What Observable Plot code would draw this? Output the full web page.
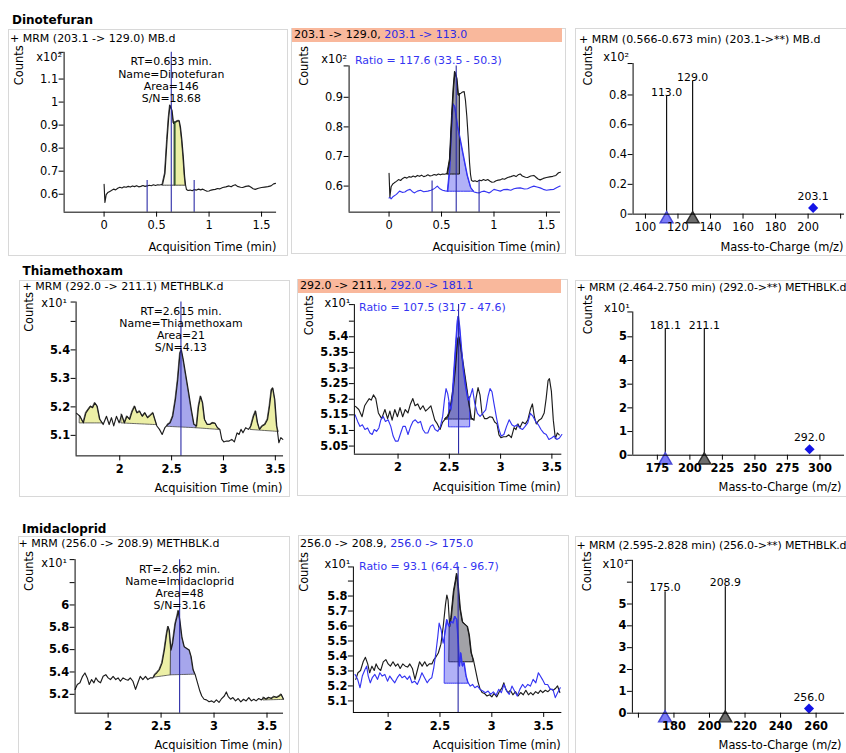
<!DOCTYPE html>
<html><head><meta charset="utf-8">
<script src="https://cdn.jsdelivr.net/npm/d3@7"></script>
<script src="https://cdn.jsdelivr.net/npm/@observablehq/plot@0.6"></script>
<style>
body{margin:0;background:#fff;font-family:"DejaVu Sans",sans-serif;color:#000}
#page{position:relative;width:846px;height:753px;overflow:hidden;background:#fff}
.box{position:absolute;border:1px solid #d8d8d8;box-sizing:border-box;background:#fff}
.box svg{position:absolute;left:-1px;top:-1px;overflow:visible}
.lbl{position:absolute;white-space:nowrap;height:14px;line-height:14px}
</style>
</head><body><div id="page"></div>
<script>
// ================= DATA =================
// ---- Dinotefuran (time in min, counts x10^2) ----
const dinoQuant = [[0.000,0.643],[0.008,0.564],[0.020,0.598],[0.035,0.607],[0.050,0.611],[0.070,0.616],[0.090,0.622],[0.110,0.619],[0.130,0.626],[0.150,0.630],[0.170,0.627],[0.190,0.632],[0.210,0.630],[0.230,0.634],[0.250,0.631],[0.270,0.636],[0.290,0.633],[0.310,0.637],[0.330,0.632],[0.350,0.634],[0.370,0.638],[0.390,0.634],[0.410,0.636],[0.430,0.639],[0.450,0.637],[0.470,0.641],[0.490,0.638],[0.510,0.641],[0.530,0.640],[0.557,0.643],[0.580,0.690],[0.600,0.836],[0.615,0.930],[0.628,0.986],[0.647,0.964],[0.662,0.907],[0.675,0.912],[0.685,0.914],[0.700,0.918],[0.716,0.919],[0.728,0.890],[0.741,0.836],[0.755,0.760],[0.767,0.679],[0.776,0.640],[0.785,0.620],[0.800,0.616],[0.820,0.618],[0.840,0.615],[0.860,0.620],[0.880,0.618],[0.900,0.622],[0.920,0.619],[0.940,0.622],[0.960,0.617],[0.980,0.613],[1.000,0.614],[1.020,0.618],[1.040,0.620],[1.060,0.621],[1.080,0.625],[1.100,0.623],[1.130,0.629],[1.160,0.632],[1.190,0.636],[1.210,0.632],[1.230,0.638],[1.250,0.641],[1.270,0.634],[1.300,0.630],[1.320,0.629],[1.350,0.634],[1.380,0.636],[1.400,0.630],[1.420,0.624],[1.440,0.621],[1.470,0.626],[1.500,0.629],[1.530,0.631],[1.560,0.633],[1.590,0.636],[1.615,0.645],[1.633,0.647]];
const dinoQual = [[0.000,0.560],[0.010,0.562],[0.020,0.557],[0.040,0.565],[0.070,0.572],[0.100,0.583],[0.125,0.579],[0.150,0.580],[0.175,0.586],[0.200,0.589],[0.220,0.582],[0.240,0.577],[0.270,0.583],[0.300,0.586],[0.330,0.581],[0.370,0.583],[0.400,0.586],[0.420,0.589],[0.440,0.594],[0.460,0.600],[0.480,0.592],[0.510,0.586],[0.535,0.584],[0.560,0.583],[0.580,0.657],[0.595,0.780],[0.610,0.878],[0.628,0.867],[0.653,0.805],[0.685,0.748],[0.716,0.691],[0.748,0.634],[0.780,0.594],[0.810,0.580],[0.835,0.578],[0.858,0.577],[0.880,0.581],[0.905,0.583],[0.930,0.580],[0.953,0.577],[0.975,0.582],[1.000,0.589],[1.030,0.586],[1.060,0.583],[1.090,0.588],[1.126,0.589],[1.160,0.586],[1.190,0.591],[1.220,0.593],[1.250,0.594],[1.290,0.590],[1.320,0.591],[1.350,0.596],[1.380,0.600],[1.410,0.597],[1.440,0.594],[1.470,0.589],[1.500,0.586],[1.540,0.588],[1.570,0.589],[1.600,0.595],[1.630,0.600]];
const dinoPeaks = [[0.557,0.675,0.637,0.637],[0.675,0.776,0.637,0.637]];
const dinoPeakKind = ["plain","minor"];
const dinoSplit = [[0.675,0.637,0.912]];
const dinoRT = 0.64;
const dinoLimits1 = [[0.41,0.66],[0.858,0.66]];
const dinoLimits2 = [[0.41,0.617],[0.858,0.617]];
const dinoQuantArea = [0.557,0.675,0.639,0.639];
const dinoQualArea = [0.560,0.810,0.581,0.581];
const dinoSpecMz = [113.0,129.0];
const dinoSpecInt = [0.79,0.89];
const dinoPrec = [203.1,0.042];
const dinoInfo = "RT=0.633 min.\nName=Dinotefuran\nArea=146\nS/N=18.68";
const dinoRatio = "Ratio = 117.6 (33.5 - 50.3)";

// ---- Thiamethoxam (time in min, counts x10^1) ----
const thiaQuant = [[1.585,5.177],[1.617,5.167],[1.649,5.144],[1.674,5.179],[1.697,5.191],[1.719,5.202],[1.738,5.197],[1.760,5.214],[1.783,5.202],[1.808,5.156],[1.840,5.138],[1.872,5.167],[1.898,5.138],[1.920,5.162],[1.942,5.133],[1.968,5.167],[1.994,5.144],[2.019,5.173],[2.045,5.144],[2.070,5.167],[2.096,5.156],[2.121,5.185],[2.144,5.202],[2.166,5.179],[2.192,5.185],[2.217,5.167],[2.243,5.179],[2.268,5.162],[2.294,5.170],[2.320,5.179],[2.339,5.156],[2.358,5.133],[2.383,5.121],[2.409,5.103],[2.435,5.127],[2.463,5.138],[2.486,5.144],[2.511,5.167],[2.537,5.226],[2.559,5.295],[2.581,5.388],[2.594,5.400],[2.613,5.365],[2.639,5.307],[2.665,5.249],[2.690,5.191],[2.716,5.138],[2.741,5.133],[2.760,5.202],[2.780,5.237],[2.799,5.214],[2.818,5.156],[2.843,5.138],[2.869,5.138],[2.895,5.144],[2.920,5.142],[2.942,5.127],[2.965,5.121],[2.984,5.086],[3.003,5.077],[3.029,5.080],[3.054,5.080],[3.080,5.086],[3.105,5.077],[3.131,5.109],[3.150,5.103],[3.169,5.121],[3.188,5.109],[3.214,5.127],[3.240,5.121],[3.265,5.133],[3.290,5.167],[3.310,5.185],[3.329,5.144],[3.348,5.121],[3.374,5.133],[3.399,5.138],[3.425,5.156],[3.444,5.202],[3.463,5.260],[3.476,5.266],[3.495,5.226],[3.514,5.133],[3.534,5.074],[3.553,5.092],[3.572,5.086]];
const thiaQual = [[1.581,5.150],[1.606,5.129],[1.629,5.113],[1.652,5.118],[1.677,5.103],[1.703,5.108],[1.726,5.092],[1.748,5.087],[1.768,5.103],[1.790,5.097],[1.813,5.108],[1.832,5.134],[1.855,5.145],[1.877,5.129],[1.903,5.134],[1.929,5.113],[1.952,5.082],[1.974,5.066],[2.000,5.066],[2.026,5.092],[2.048,5.113],[2.071,5.113],[2.097,5.087],[2.123,5.113],[2.145,5.129],[2.168,5.134],[2.194,5.124],[2.219,5.129],[2.242,5.103],[2.265,5.092],[2.290,5.092],[2.316,5.113],[2.339,5.118],[2.361,5.103],[2.387,5.097],[2.413,5.113],[2.435,5.145],[2.452,5.197],[2.468,5.234],[2.484,5.218],[2.500,5.187],[2.516,5.166],[2.532,5.208],[2.548,5.292],[2.565,5.376],[2.581,5.450],[2.590,5.465],[2.603,5.429],[2.619,5.365],[2.639,5.292],[2.661,5.239],[2.684,5.197],[2.703,5.208],[2.726,5.234],[2.748,5.187],[2.774,5.155],[2.800,5.145],[2.826,5.155],[2.855,5.166],[2.877,5.208],[2.897,5.234],[2.916,5.224],[2.935,5.187],[2.961,5.139],[2.984,5.103],[3.006,5.082],[3.032,5.087],[3.058,5.113],[3.084,5.134],[3.110,5.118],[3.135,5.113],[3.161,5.118],[3.187,5.108],[3.213,5.103],[3.239,5.113],[3.265,5.124],[3.290,5.155],[3.316,5.145],[3.342,5.129],[3.368,5.118],[3.394,5.103],[3.419,5.092],[3.445,5.087],[3.471,5.071],[3.497,5.076],[3.523,5.082],[3.548,5.071],[3.574,5.076],[3.597,5.087]];
const thiaPeaks = [[1.617,1.840,5.142,5.142],[2.019,2.358,5.142,5.136],[2.463,2.741,5.130,5.125],[2.741,2.965,5.125,5.119],[3.265,3.534,5.119,5.112]];
const thiaPeakKind = ["minor","minor","main","minor","minor"];
const thiaRT = 2.59;
const thiaQuantArea = [2.463,2.741,5.135,5.135];
const thiaQualArea = [2.500,2.703,5.110,5.110];
const thiaSpecMz = [181.1,211.1];
const thiaSpecInt = [5.33,5.33];
const thiaPrec = [292.0,0.25];
const thiaInfo = "RT=2.615 min.\nName=Thiamethoxam\nArea=21\nS/N=4.13";
const thiaRatio = "Ratio = 107.5 (31.7 - 47.6)";

// ---- Imidacloprid (time in min, counts x10^1) ----
const imidaQuant = [[1.688,5.244],[1.709,5.288],[1.734,5.303],[1.759,5.361],[1.781,5.391],[1.803,5.347],[1.822,5.288],[1.844,5.332],[1.866,5.303],[1.884,5.347],[1.906,5.317],[1.928,5.303],[1.953,5.361],[1.978,5.376],[2.000,5.347],[2.022,5.332],[2.047,5.361],[2.072,5.332],[2.094,5.347],[2.116,5.317],[2.141,5.347],[2.166,5.332],[2.188,5.326],[2.209,5.347],[2.234,5.317],[2.259,5.244],[2.281,5.303],[2.303,5.361],[2.328,5.332],[2.353,5.361],[2.375,5.332],[2.397,5.347],[2.422,5.347],[2.441,5.376],[2.459,5.391],[2.484,5.420],[2.509,5.479],[2.531,5.596],[2.553,5.743],[2.566,5.807],[2.578,5.772],[2.594,5.596],[2.609,5.655],[2.634,5.831],[2.653,5.904],[2.663,5.948],[2.678,5.860],[2.697,5.713],[2.719,5.625],[2.741,5.611],[2.766,5.596],[2.784,5.537],[2.803,5.420],[2.822,5.376],[2.844,5.303],[2.866,5.229],[2.884,5.185],[2.906,5.156],[2.928,5.150],[2.953,5.133],[2.978,5.141],[3.000,5.127],[3.022,5.150],[3.047,5.127],[3.072,5.162],[3.097,5.185],[3.116,5.221],[3.134,5.179],[3.156,5.156],[3.178,5.171],[3.203,5.141],[3.228,5.162],[3.253,5.133],[3.278,5.156],[3.303,5.141],[3.328,5.171],[3.353,5.141],[3.375,5.156],[3.397,5.141],[3.422,5.162],[3.447,5.150],[3.469,5.171],[3.491,5.156],[3.516,5.171],[3.541,5.162],[3.566,5.179],[3.591,5.171],[3.616,5.185],[3.634,5.200],[3.656,5.156]];
const imidaQual = [[1.681,5.277],[1.706,5.244],[1.729,5.188],[1.751,5.266],[1.777,5.310],[1.793,5.332],[1.808,5.266],[1.828,5.221],[1.847,5.255],[1.872,5.277],[1.898,5.244],[1.920,5.288],[1.943,5.266],[1.968,5.277],[1.994,5.232],[2.016,5.266],[2.038,5.244],[2.064,5.221],[2.089,5.255],[2.112,5.277],[2.134,5.255],[2.160,5.266],[2.185,5.244],[2.207,5.266],[2.230,5.221],[2.255,5.232],[2.281,5.210],[2.303,5.244],[2.326,5.288],[2.351,5.255],[2.377,5.221],[2.399,5.244],[2.421,5.255],[2.440,5.321],[2.460,5.420],[2.479,5.531],[2.492,5.619],[2.511,5.575],[2.530,5.486],[2.549,5.553],[2.568,5.641],[2.587,5.597],[2.606,5.630],[2.626,5.619],[2.645,5.663],[2.664,5.641],[2.677,5.508],[2.689,5.332],[2.702,5.420],[2.718,5.332],[2.734,5.354],[2.753,5.266],[2.772,5.221],[2.792,5.199],[2.814,5.210],[2.836,5.188],[2.862,5.199],[2.887,5.177],[2.913,5.166],[2.938,5.155],[2.964,5.166],[2.989,5.144],[3.015,5.160],[3.041,5.138],[3.066,5.177],[3.092,5.155],[3.117,5.210],[3.143,5.166],[3.168,5.144],[3.194,5.199],[3.219,5.166],[3.245,5.133],[3.270,5.177],[3.296,5.210],[3.321,5.188],[3.347,5.210],[3.372,5.199],[3.398,5.244],[3.424,5.221],[3.449,5.288],[3.468,5.266],[3.487,5.244],[3.513,5.210],[3.538,5.210],[3.564,5.177],[3.589,5.177],[3.612,5.122],[3.634,5.155],[3.660,5.188]];
const imidaPeaks = [[2.441,2.594,5.350,5.370],[2.594,2.822,5.370,5.376],[3.469,3.656,5.145,5.150]];
const imidaPeakKind = ["minor","main","minor"];
const imidaRT = 2.675;
const imidaQuantArea = [2.594,2.822,5.358,5.358];
const imidaQualArea = [2.549,2.782,5.215,5.215];
const imidaSpecMz = [175.0,208.9];
const imidaSpecInt = [5.56,5.79];
const imidaPrec = [256.0,0.21];
const imidaInfo = "RT=2.662 min.\nName=Imidacloprid\nArea=48\nS/N=3.16";
const imidaRatio = "Ratio = 93.1 (64.4 - 96.7)";

// ---- tick values / labels ----
const ticksDinoX = [0,0.5,1,1.5], labelsDinoX = ["0","0.5","1","1.5"];
const ticksLateX = [2,2.5,3,3.5], labelsLateX = ["2","2.5","3","3.5"];
const ticksP1Y = [0.6,0.7,0.8,0.9,1.0,1.1,1.216], labelsP1Y = ["0.6","0.7","0.8","0.9","1","1.1",""];
const ticksP2Y = [0.6,0.7,0.8,0.9,1.006], labelsP2Y = ["0.6","0.7","0.8","0.9",""];
const ticksP3X = [100,120,140,160,180,200,220], labelsP3X = ["100","120","140","160","180","200",""];
const ticksP3Y = [0,0.2,0.4,0.6,0.8,1.011], labelsP3Y = ["0","0.2","0.4","0.6","0.8",""];
const ticksP4Y = [5.1,5.2,5.3,5.4,5.5,5.568], labelsP4Y = ["5.1","5.2","5.3","5.4","",""];
const ticksP5Y = [5.05,5.1,5.15,5.2,5.25,5.3,5.35,5.4,5.45,5.503], labelsP5Y = ["5.05","5.1","5.15","5.2","5.25","5.3","5.35","5.4","",""];
const ticksP6X = [175,200,225,250,275,300], labelsP6X = ["175","200","225","250","275","300"];
const ticksP6Y = [0,1,2,3,4,5,6.05], labelsP6Y = ["0","1","2","3","4","5",""];
const ticksP7Y = [5.2,5.4,5.6,5.8,6.0,6.2,6.406], labelsP7Y = ["5.2","5.4","5.6","5.8","6","",""];
const ticksP8Y = [5.1,5.2,5.3,5.4,5.5,5.6,5.7,5.8,5.9,5.994], labelsP8Y = ["5.1","5.2","5.3","5.4","5.5","5.6","5.7","5.8","",""];
const ticksP9X = [160,180,200,220,240,260], labelsP9X = ["","180","200","220","240","260"];
const ticksP9Y = [0,1,2,3,4,5,6,7], labelsP9Y = ["0","1","2","3","4","5","",""];

// ================= STYLE =================
const FONT = "DejaVu Sans, sans-serif";
const C = {
  trace:"#1c1c1c", qual:"#3434f2", rt:"#2a2aa6", minor:"#ecefa6", main:"#a6a6ec", plain:"#fbfbf4",
  quantFill:"rgba(70,70,80,0.5)", qualFill:"rgba(70,70,235,0.42)", split:"#1f4f1f",
  triQual:"#7b7bf6", triQualS:"#4a4ad6", triQuant:"#6c6c6c", triQuantS:"#2e2e2e", prec:"#1414e6",
  salmon:"#f9b89c", hdrBlue:"#2b2be6"
};
const page = document.getElementById("page");

function label(html, x, y, css="") {
  const d = document.createElement("div");
  d.className = "lbl";
  d.style.cssText += `left:${x}px;top:${y-7}px;${css}`;
  d.innerHTML = html;
  page.appendChild(d);
  return d;
}

function peakArea(trace, pk) {
  const [t0,t1,b0,b1] = pk;
  return trace.filter(d => d[0] >= t0 - 1e-9 && d[0] <= t1 + 1e-9).map(d => {
    const base = b0 + (b1 - b0) * (d[0] - t0) / (t1 - t0);
    return {t: d[0], lo: base, hi: Math.max(base, d[1])};
  });
}

function lineMark(trace, stroke) {
  return Plot.line(trace, {x: d => d[0], y: d => d[1], stroke, strokeWidth: 1.15});
}

function areaMark(trace, pk, fill, stroke, sw=0.9) {
  return Plot.areaY(peakArea(trace, pk), {x: "t", y1: "lo", y2: "hi", fill, stroke, strokeWidth: sw});
}

function specMarks(mz, inten, prec) {
  const sticks = mz.map((m,i) => ({mz: m, v: inten[i]}));
  const pr = [{mz: prec[0], v: prec[1]}];
  return [
    Plot.ruleX(sticks, {x: "mz", y1: 0, y2: "v", stroke: "#111", strokeWidth: 1.2}),
    Plot.text(sticks, {x: "mz", y: "v", text: d => d.mz.toFixed(1), dy: -4, fontSize: 11}),
    Plot.dot([sticks[0]], {x: "mz", y: 0, symbol: "triangle", r: 4.8, dy: 5, fill: C.triQual, stroke: C.triQualS}),
    Plot.dot([sticks[1]], {x: "mz", y: 0, symbol: "triangle", r: 4.8, dy: 5, fill: C.triQuant, stroke: C.triQuantS}),
    Plot.dot(pr, {x: "mz", y: "v", symbol: "diamond2", r: 4.6, fill: C.prec}),
    Plot.text(pr, {x: "mz", y: "v", text: d => d.mz.toFixed(1), dy: -11.5, fontSize: 11})
  ];
}

function panel(p) {
  const [l,t,r,b] = p.box;
  const [x0,x1,y0,y1] = p.frame;
  const box = document.createElement("div");
  box.className = "box";
  box.style.cssText = `left:${l}px;top:${t}px;width:${r-l}px;height:${b-t}px;`;
  page.appendChild(box);
  const fw = p.bold ? "bold" : "normal";
  const fx = d => p.xl[p.xt.indexOf(d)] ?? "";
  const fy = d => p.yl[p.yt.indexOf(d)] ?? "";
  const marks = [
    ...p.marks,
    Plot.ruleX([p.xd[0]], {stroke: "#000", strokeWidth: 1}),
    Plot.ruleY([p.yd[0]], {stroke: "#000", strokeWidth: 1}),
    Plot.axisX({ticks: p.xt, tickFormat: fx, tickSize: 5, tickPadding: 4, label: null, fontSize: 11.5, fontWeight: fw, stroke: "#000"}),
    Plot.axisY({ticks: p.yt, tickFormat: fy, tickSize: 5, tickPadding: 1, label: null, fontSize: 11.5, fontWeight: fw, stroke: "#000"}),
    Plot.text([p.mult], {text: d => d, frameAnchor: "top-left", dx: p.multPos[0], dy: p.multPos[1], textAnchor: "end", lineAnchor: "middle", fontSize: 11.5}),
    Plot.text(["Counts"], {text: d => d, frameAnchor: "top-left", dx: p.counts[0], dy: p.counts[1], rotate: -90, textAnchor: "middle", lineAnchor: "middle", fontSize: 11.5}),
    Plot.text([p.xlabel], {text: d => d, frameAnchor: "bottom-right", dx: p.xlab[0], dy: p.xlab[1], textAnchor: "end", lineAnchor: "middle", fontSize: 11.5})
  ];
  const svg = Plot.plot({
    width: r - l, height: b - t,
    marginLeft: x0 - l, marginRight: r - x1, marginTop: y0 - t, marginBottom: b - y1,
    x: {domain: p.xd}, y: {domain: p.yd},
    style: {fontFamily: FONT, fontSize: "11px", background: "none", overflow: "visible", color: "#000"},
    marks
  });
  box.appendChild(svg);
}

function info(txt, rt, dy, lh) {
  return Plot.text([txt], {text: d => d, x: rt, frameAnchor: "top", dy, lineAnchor: "top", lineHeight: lh, fontSize: 11});
}
function ratio(txt, dx, dy) {
  return Plot.text([txt], {text: d => d, frameAnchor: "top-left", dx, dy, textAnchor: "start", lineAnchor: "middle", fill: C.qual, fontSize: 11});
}
function limits(arr, y0) {
  return Plot.ruleX(arr, {x: d => d[0], y1: y0, y2: d => d[1], stroke: C.rt, strokeWidth: 1.1});
}

// ================= PANELS =================
// Row 1 : Dinotefuran
panel({
  box: [8,29,288,256], frame: [64,278,52,213], xd: [-0.381,1.643], yd: [0.522,1.216],
  xt: ticksDinoX, xl: labelsDinoX, yt: ticksP1Y, yl: labelsP1Y,
  mult: "x10²", multPos: [-2,5], counts: [-45,13], xlabel: "Acquisition Time (min)", xlab: [0,35],
  marks: [
    ...dinoPeaks.map((pk,i) => areaMark(dinoQuant, pk, C[dinoPeakKind[i]], "#333")),
    lineMark(dinoQuant, C.trace),
    Plot.ruleX(dinoSplit, {x: d => d[0], y1: d => d[1], y2: d => d[2], stroke: C.split, strokeWidth: 1.2}),
    limits(dinoLimits1, 0.522),
    Plot.ruleX([dinoRT], {stroke: C.rt, strokeWidth: 1.1}),
    info(dinoInfo, dinoRT, 4, 1.14)
  ]
});
panel({
  box: [291,28,566,254], frame: [349,562,65.7,213], xd: [-0.381,1.634], yd: [0.512,1.006],
  xt: ticksDinoX, xl: labelsDinoX, yt: ticksP2Y, yl: labelsP2Y,
  mult: "x10²", multPos: [-2,-7], counts: [-45,0], xlabel: "Acquisition Time (min)", xlab: [0,35.3],
  marks: [
    areaMark(dinoQual, dinoQualArea, C.qualFill, C.qual, 1),
    areaMark(dinoQuant, dinoQuantArea, C.quantFill, "#111", 1),
    lineMark(dinoQual, C.qual),
    lineMark(dinoQuant, C.trace),
    limits(dinoLimits2, 0.512),
    Plot.ruleX([dinoRT], {stroke: C.rt, strokeWidth: 1.1}),
    ratio(dinoRatio, 6, -5.7)
  ]
});
panel({
  box: [575,28,852,256], frame: [633,846,63.3,215], xd: [92.4,222.4], yd: [0,1.011],
  xt: ticksP3X, xl: labelsP3X, yt: ticksP3Y, yl: labelsP3Y,
  mult: "x10²", multPos: [-4,-6], counts: [-45,2], xlabel: "Mass-to-Charge (m/z)", xlab: [-1,33.3],
  marks: specMarks(dinoSpecMz, dinoSpecInt, dinoPrec)
});

// Row 2 : Thiamethoxam
panel({
  box: [19,280,290,497], frame: [76,285,301.7,456.7], xd: [1.579,3.579], yd: [5.028,5.568], bold: true,
  xt: ticksLateX, xl: labelsLateX, yt: ticksP4Y, yl: labelsP4Y,
  mult: "x10¹", multPos: [-9,1], counts: [-47,10], xlabel: "Acquisition Time (min)", xlab: [-1,32.6],
  marks: [
    ...thiaPeaks.map((pk,i) => areaMark(thiaQuant, pk, C[thiaPeakKind[i]], "#444", 0.8)),
    lineMark(thiaQuant, C.trace),
    Plot.ruleX([thiaRT], {stroke: C.rt, strokeWidth: 1.1}),
    info(thiaInfo, thiaRT, 4.5, 1.1)
  ]
});
panel({
  box: [297,279,568,496], frame: [354.3,563.3,304.3,455], xd: [1.574,3.597], yd: [5.024,5.503], bold: true,
  xt: ticksLateX, xl: labelsLateX, yt: ticksP5Y, yl: labelsP5Y,
  mult: "x10¹", multPos: [-4,-1], counts: [-45,10.7], xlabel: "Acquisition Time (min)", xlab: [-1,33.3],
  marks: [
    areaMark(thiaQuant, thiaQuantArea, C.quantFill, "#111", 1),
    areaMark(thiaQual, thiaQualArea, C.qualFill, C.qual, 1),
    lineMark(thiaQuant, C.trace),
    lineMark(thiaQual, C.qual),
    Plot.ruleX([thiaRT], {stroke: C.rt, strokeWidth: 1.1}),
    ratio(thiaRatio, 4.7, 3.4)
  ]
});
panel({
  box: [575,280,852,497], frame: [632.7,846,311.7,456], xd: [156.1,318.9], yd: [0,6.05], bold: true,
  xt: ticksP6X, xl: labelsP6X, yt: ticksP6Y, yl: labelsP6Y,
  mult: "x10¹", multPos: [-3,-4], counts: [-45,2.5], xlabel: "Mass-to-Charge (m/z)", xlab: [-3,32.3],
  marks: specMarks(thiaSpecMz, thiaSpecInt, thiaPrec)
});

// Row 3 : Imidacloprid
panel({
  box: [18,536,290,762], frame: [75,285,559.3,714], xd: [1.688,3.656], yd: [5.031,6.406], bold: true,
  xt: ticksLateX, xl: labelsLateX, yt: ticksP7Y, yl: labelsP7Y,
  mult: "x10¹", multPos: [-8,4], counts: [-46,11.5], xlabel: "Acquisition Time (min)", xlab: [-1,32.5],
  marks: [
    ...imidaPeaks.map((pk,i) => areaMark(imidaQuant, pk, C[imidaPeakKind[i]], "#444", 0.8)),
    lineMark(imidaQuant, C.trace),
    Plot.ruleX([imidaRT], {stroke: C.rt, strokeWidth: 1.1}),
    info(imidaInfo, imidaRT, 5, 1.1)
  ]
});
panel({
  box: [298,535,569,762], frame: [353.3,563.3,566.7,713.3], xd: [1.665,3.675], yd: [5.023,5.994], bold: true,
  xt: ticksLateX, xl: labelsLateX, yt: ticksP8Y, yl: labelsP8Y,
  mult: "x10¹", multPos: [-3,-3], counts: [-49,5], xlabel: "Acquisition Time (min)", xlab: [-1,33.2],
  marks: [
    areaMark(imidaQuant, imidaQuantArea, C.quantFill, "#111", 1),
    areaMark(imidaQual, imidaQualArea, C.qualFill, C.qual, 1),
    lineMark(imidaQuant, C.trace),
    lineMark(imidaQual, C.qual),
    Plot.ruleX([imidaRT], {stroke: C.rt, strokeWidth: 1.1}),
    ratio(imidaRatio, 5.7, 0)
  ]
});
panel({
  box: [575,536,852,762], frame: [632.3,846,560,714], xd: [156.6,276.0], yd: [0,7.0], bold: true,
  xt: ticksP9X, xl: labelsP9X, yt: ticksP9Y, yl: labelsP9Y,
  mult: "x10¹", multPos: [-4,4], counts: [-45,11], xlabel: "Mass-to-Charge (m/z)", xlab: [-3,32.5],
  marks: specMarks(imidaSpecMz, imidaSpecInt, imidaPrec)
});

// ================= TITLES / HEADERS =================
label("Dinotefuran", 12, 20, "font-weight:bold;font-size:12px;");
label("Thiamethoxam", 22.5, 270.7, "font-weight:bold;font-size:12px;");
label("Imidacloprid", 22, 529.3, "font-weight:bold;font-size:12px;");

const H = "font-size:11px;";
label("+ MRM (203.1 -&gt; 129.0) MB.d", 10, 39, H);
label(`203.1 -&gt; 129.0, <span style="color:${C.hdrBlue}">203.1 -&gt; 113.0</span>`, 292, 35, H + `width:268px;padding-left:2px;background:${C.salmon};`);
label("+ MRM (0.566-0.673 min) (203.1-&gt;**) MB.d", 579, 40, H);

label("+ MRM (292.0 -&gt; 211.1) METHBLK.d", 22.5, 287.3, H);
label(`292.0 -&gt; 211.1, <span style="color:${C.hdrBlue}">292.0 -&gt; 181.1</span>`, 298, 285.5, H + `width:261px;padding-left:2px;background:${C.salmon};`);
label("+ MRM (2.464-2.750 min) (292.0-&gt;**) METHBLK.d", 576.5, 288.3, H + "letter-spacing:-0.15px;");

label("+ MRM (256.0 -&gt; 208.9) METHBLK.d", 18.5, 544.3, H);
label(`256.0 -&gt; 208.9, <span style="color:${C.hdrBlue}">256.0 -&gt; 175.0</span>`, 300, 544, H);
label("+ MRM (2.595-2.828 min) (256.0-&gt;**) METHBLK.d", 576.5, 546, H + "letter-spacing:-0.15px;");
</script>
</body></html>
